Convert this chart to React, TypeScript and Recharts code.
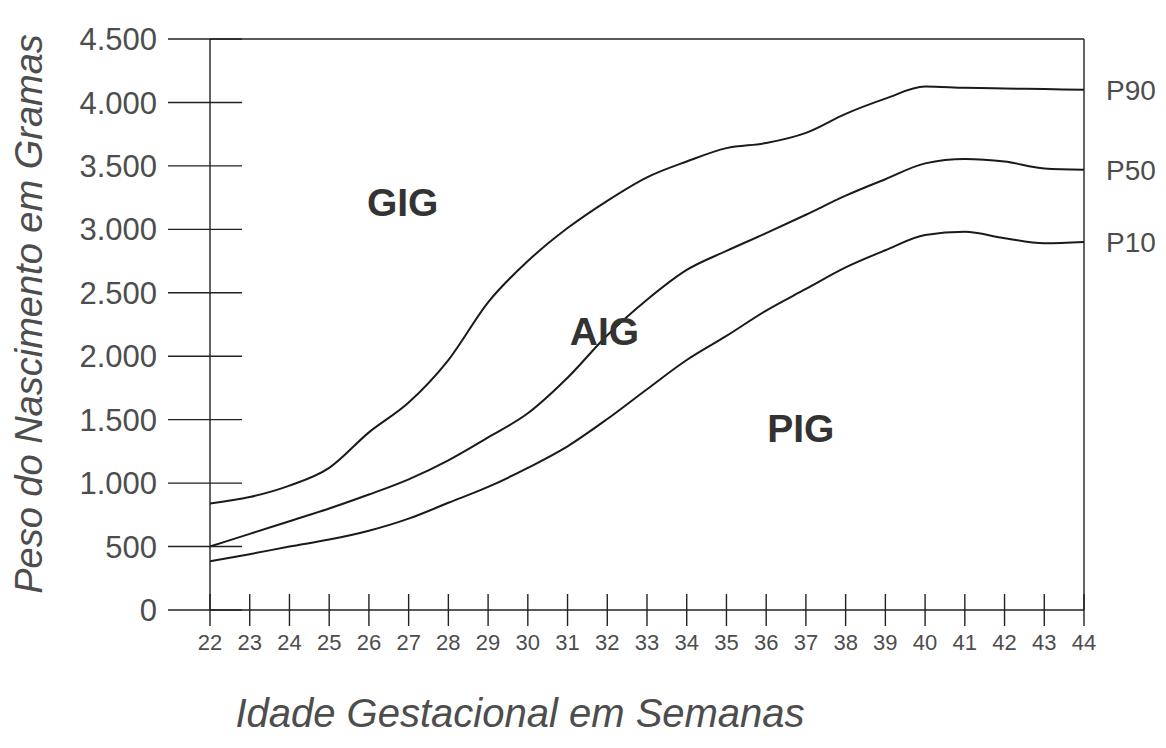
import {
  Line,
  LineChart,
  ReferenceDot,
  ReferenceLine,
  XAxis,
  YAxis,
} from "recharts";

// gestational age (weeks) and birth-weight percentiles (grams)
const weeks = [22, 23, 24, 25, 26, 27, 28, 29, 30, 31, 32, 33, 34, 35, 36, 37, 38, 39, 40, 41, 42, 43, 44];
const p90 = [840, 890, 980, 1120, 1400, 1635, 1970, 2425, 2750, 3010, 3225, 3410, 3535, 3640, 3680, 3760, 3910, 4030, 4125, 4115, 4110, 4105, 4100];
const p50 = [500, 600, 700, 800, 910, 1030, 1180, 1360, 1550, 1830, 2165, 2445, 2680, 2830, 2970, 3115, 3265, 3395, 3520, 3555, 3535, 3480, 3470];
const p10 = [385, 440, 500, 555, 625, 720, 845, 970, 1120, 1290, 1505, 1740, 1970, 2160, 2360, 2530, 2700, 2835, 2955, 2980, 2930, 2890, 2900];
const weightTicks = [0, 500, 1000, 1500, 2000, 2500, 3000, 3500, 4000, 4500];

// zone names and where they sit (week, grams)
const zoneNames = ["GIG", "AIG", "PIG"];
const zoneWeeks = [26.85, 31.93, 36.87];
const zoneGrams = [3215, 2195, 1435];

const font = "'Liberation Sans', Arial, Helvetica, sans-serif";
const ink = "#222";
const textGrey = "#4d4d4d";

const rows = weeks.map((w, i) => ({ week: w, p90: p90[i], p50: p50[i], p10: p10[i] }));

function grams(v: number) {
  if (v < 1000) return String(v);
  return `${Math.floor(v / 1000)}.${String(v % 1000).padStart(3, "0")}`;
}

function WeightTick({ x, y, payload }: any) {
  return (
    <g>
      <line x1={x - 42} x2={x + 32} y1={y} y2={y} stroke={ink} strokeWidth={1.4} />
      <text
        x={x - 53}
        y={y}
        dy="0.36em"
        textAnchor="end"
        fontSize={31}
        fontFamily={font}
        fill={textGrey}
      >
        {grams(payload.value)}
      </text>
    </g>
  );
}

function WeekTick({ x, y, payload }: any) {
  return (
    <g>
      <line x1={x} x2={x} y1={y - 16} y2={y + 16} stroke={ink} strokeWidth={1.4} />
      <text x={x} y={y + 40} textAnchor="middle" fontSize={22} fontFamily={font} fill={textGrey}>
        {payload.value}
      </text>
    </g>
  );
}

function YTitle(props: any) {
  const vb = props.viewBox ?? { x: 0, y: 31, width: 202, height: 571 };
  const bx = vb.x + 34;
  const cy = vb.y + 275;
  return (
    <text
      x={bx}
      y={cy}
      transform={`rotate(-90, ${bx}, ${cy})`}
      textAnchor="middle"
      fontSize={38}
      fontStyle="italic"
      fontFamily={font}
      fill={textGrey}
    >
      Peso do Nascimento em Gramas
    </text>
  );
}

function XTitle(props: any) {
  const vb = props.viewBox ?? { x: 202, y: 602, width: 874, height: 138 };
  return (
    <text
      x={vb.x + 310}
      y={vb.y + 117}
      textAnchor="middle"
      fontSize={40}
      fontStyle="italic"
      fontFamily={font}
      fill={textGrey}
    >
      Idade Gestacional em Semanas
    </text>
  );
}

const curves = [
  { key: "p90", name: "P90", values: p90 },
  { key: "p50", name: "P50", values: p50 },
  { key: "p10", name: "P10", values: p10 },
];

export default function App() {
  const last = weeks.length - 1;
  return (
    <div style={{ width: 1150, height: 740, background: "#fff" }}>
      <LineChart
        width={1150}
        height={740}
        data={rows}
        margin={{ top: 31, right: 74, bottom: 0, left: 0 }}
        style={{ fontFamily: font }}
      >
        <XAxis
          dataKey="week"
          type="number"
          domain={[22, 44]}
          ticks={weeks}
          interval={0}
          height={138}
          tickSize={0}
          tickMargin={0}
          tickLine={false}
          axisLine={{ stroke: ink, strokeWidth: 1.4 }}
          tick={<WeekTick />}
          label={XTitle}
        />
        <YAxis
          type="number"
          domain={[0, 4500]}
          ticks={weightTicks}
          interval={0}
          width={202}
          tickSize={0}
          tickMargin={0}
          tickLine={false}
          axisLine={{ stroke: ink, strokeWidth: 1.4 }}
          tick={<WeightTick />}
          label={YTitle}
        />
        <ReferenceLine y={4500} stroke={ink} strokeWidth={1.4} />
        <ReferenceLine x={44} stroke={ink} strokeWidth={1.4} />
        {curves.map((c) => (
          <Line
            key={c.key}
            type="monotone"
            dataKey={c.key}
            stroke="#1a1a1a"
            strokeWidth={2}
            dot={false}
            activeDot={false}
            isAnimationActive={false}
          />
        ))}
        {curves.map((c) => (
          <ReferenceDot
            key={`end-${c.key}`}
            x={44}
            y={c.values[last]}
            r={0}
            fill="none"
            stroke="none"
            label={{
              value: c.name,
              position: "right",
              offset: 22,
              fontSize: 28,
              fontFamily: font,
              fill: textGrey,
            }}
          />
        ))}
        {zoneNames.map((z, i) => (
          <ReferenceDot
            key={z}
            x={zoneWeeks[i]}
            y={zoneGrams[i]}
            r={0}
            fill="none"
            stroke="none"
            label={{
              value: z,
              position: "center",
              fontSize: 39,
              fontWeight: 700,
              fontFamily: font,
              fill: "#333",
            }}
          />
        ))}
      </LineChart>
    </div>
  );
}
